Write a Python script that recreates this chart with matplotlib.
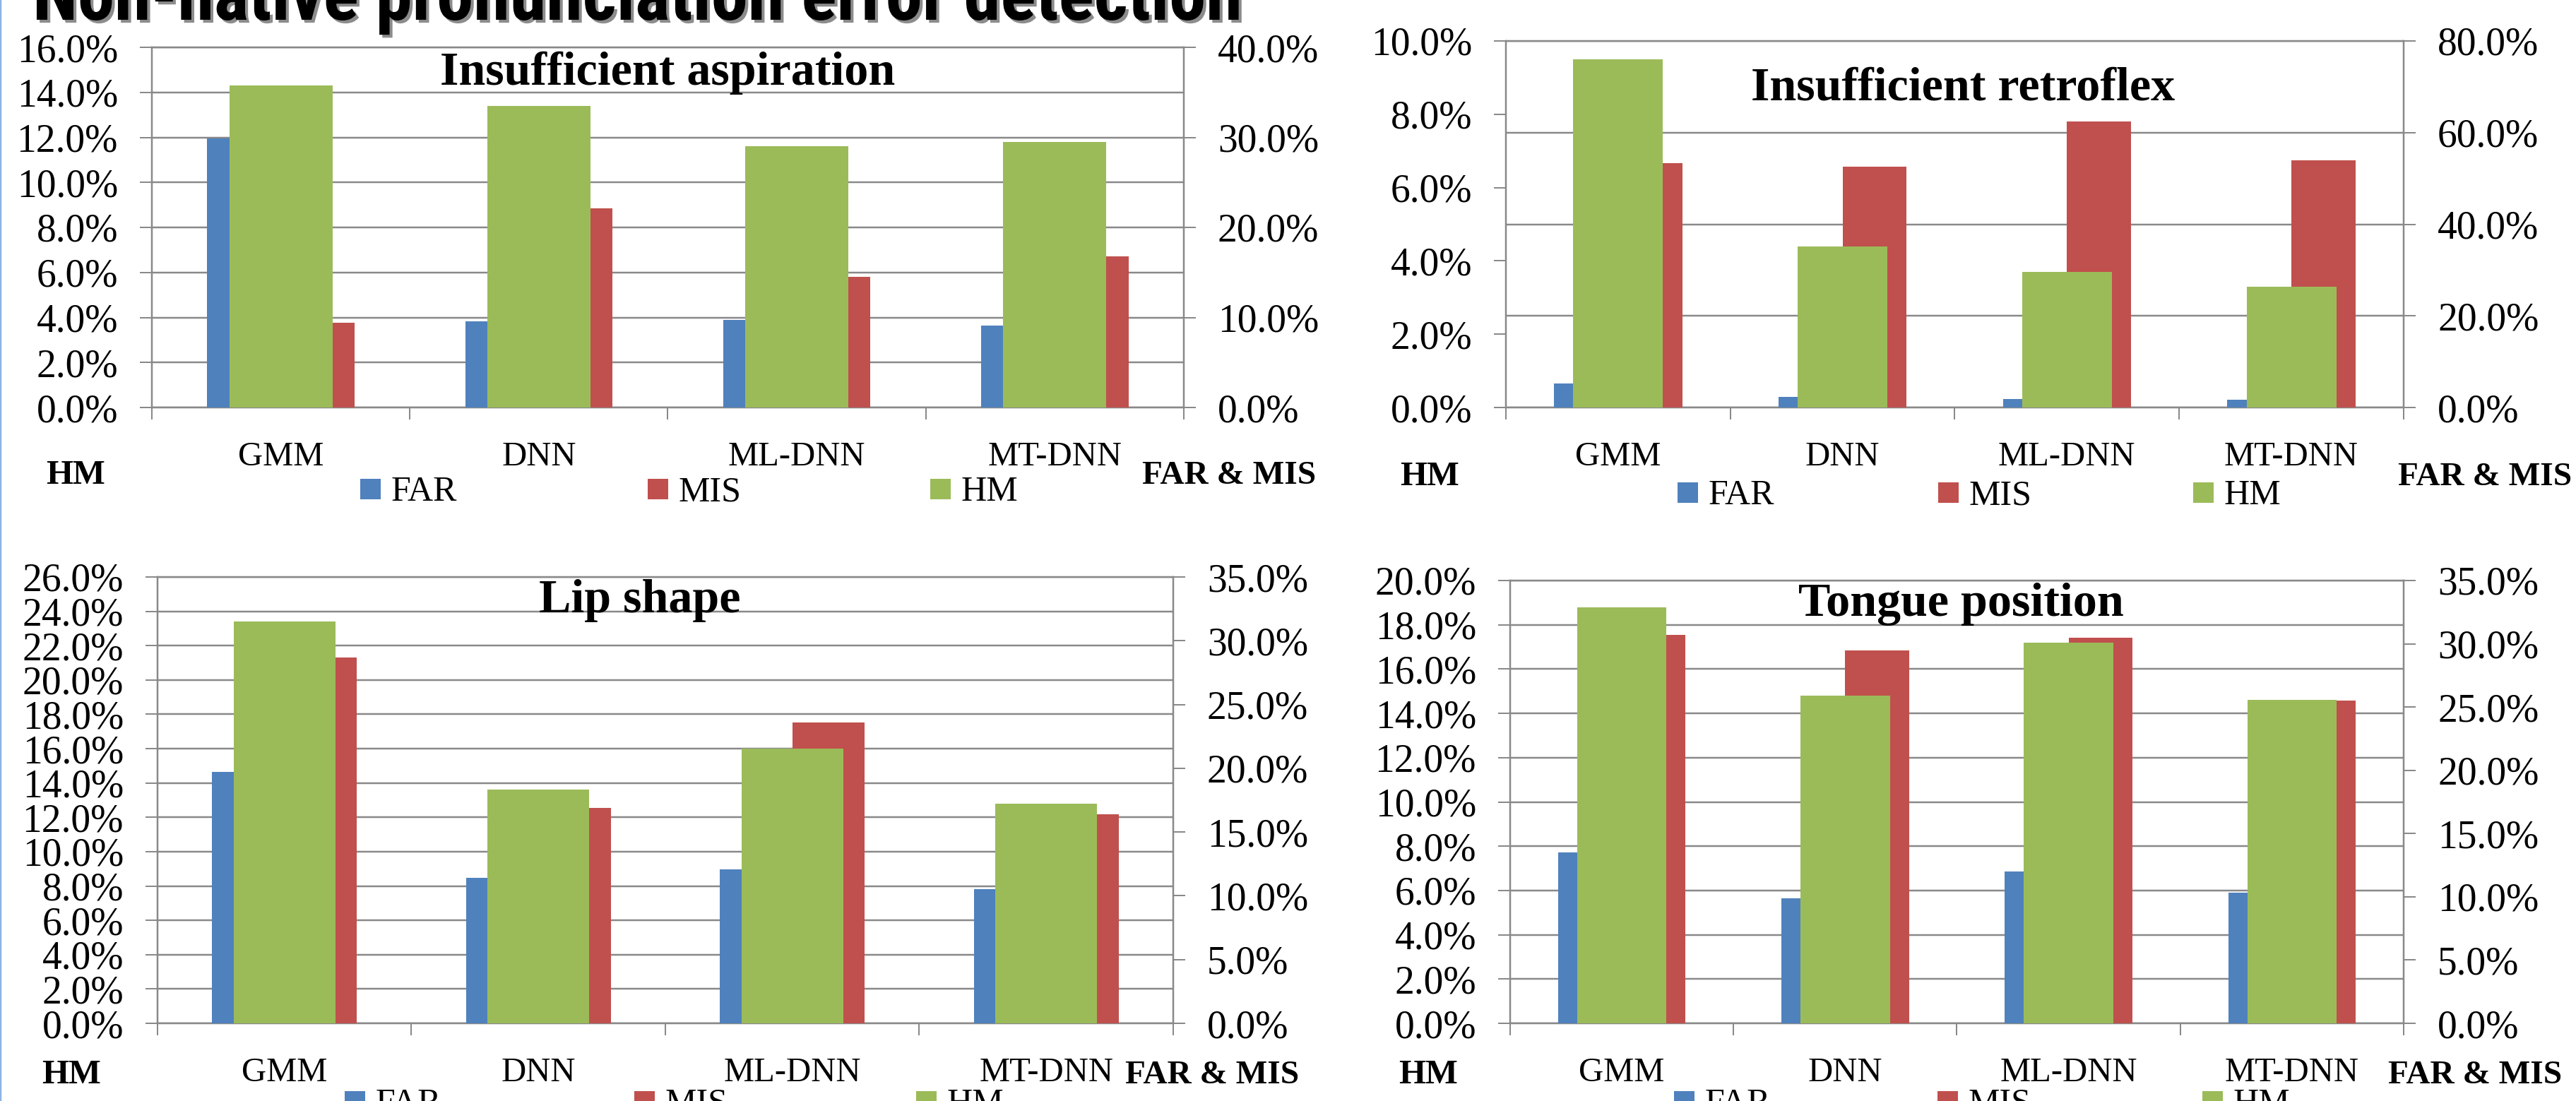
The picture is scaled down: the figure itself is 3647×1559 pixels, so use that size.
import matplotlib
matplotlib.use("Agg")
import matplotlib.pyplot as plt
import matplotlib.patheffects as pe
from matplotlib import font_manager
from matplotlib.patches import Rectangle
from matplotlib.lines import Line2D
from matplotlib.ticker import MultipleLocator, FuncFormatter
import numpy as np

W, H = 3648, 1559
DPI = 100

methods = ["GMM", "DNN", "ML-DNN", "MT-DNN"]
series_names = ["FAR", "MIS", "HM"]

# Error rates in percent: FAR / MIS on the right axis, HM on the left axis
asp_far = [29.9, 9.6, 9.7, 9.1]
asp_mis = [9.4, 22.1, 14.5, 16.8]
asp_hm = [14.3, 13.4, 11.6, 11.8]

ret_far = [5.2, 2.3, 1.9, 1.7]
ret_mis = [53.3, 52.5, 62.4, 53.9]
ret_hm = [9.5, 4.4, 3.7, 3.3]

lip_far = [19.7, 11.4, 12.1, 10.5]
lip_mis = [28.7, 16.9, 23.6, 16.4]
lip_hm = [23.4, 13.6, 16.0, 12.8]

ton_far = [13.5, 9.9, 12.0, 10.3]
ton_mis = [30.7, 29.5, 30.5, 25.5]
ton_hm = [18.8, 14.8, 17.2, 14.6]

panel_titles = ["Insufficient aspiration", "Insufficient retroflex",
                "Lip shape", "Tongue position"]
hm_max = [16, 10, 26, 20]
hm_step = [2, 2, 2, 2]
fm_max = [40, 80, 35, 35]
fm_step = [10, 20, 5, 5]

C_FAR = "#4F81BD"
C_MIS = "#C0504D"
C_HM = "#9BBB59"
C_GRID = "#898989"
SERIF = ["Liberation Serif", "DejaVu Serif"]

PT = 72.0 / DPI  # points per pixel

# layout of each panel, in pixels
layouts = [
    dict(box=(215, 67, 1676, 577), title=(945, 120), hm_x=107, fm_x=1740, lab_y=685,
         leg_x=(510, 917, 1317), leg_y=678, grid="left"),
    dict(box=(2132, 58, 3403, 577), title=(2779, 142), hm_x=2024, fm_x=3518, lab_y=687,
         leg_x=(2375, 2744, 3105), leg_y=683, grid="right"),
    dict(box=(223, 817, 1661, 1449), title=(906, 867), hm_x=101, fm_x=1716, lab_y=1534,
         leg_x=(488, 898, 1297), leg_y=1545, grid="left"),
    dict(box=(2138, 822, 3403, 1449), title=(2776, 872), hm_x=2022, fm_x=3504, lab_y=1534,
         leg_x=(2370, 2743, 3118), leg_y=1545, grid="left"),
]
data = [(asp_far, asp_mis, asp_hm), (ret_far, ret_mis, ret_hm),
        (lip_far, lip_mis, lip_hm), (ton_far, ton_mis, ton_hm)]

fig = plt.figure(figsize=(W / DPI, H / DPI), dpi=DPI, facecolor="white")


def fx(x):
    return x / W


def fy(y):
    return 1 - y / H


pct = FuncFormatter(lambda v, p: f"{v:.1f}%")
x = np.arange(len(methods))
w_pair = 1 / 3.5   # FAR / MIS bar width
w_hm = 0.4         # HM bar width

for i, (lay, (far, mis, hm)) in enumerate(zip(layouts, data)):
    l, t, r, b = lay["box"]
    rect = [fx(l), fy(b), (r - l) / W, (b - t) / H]

    ax = fig.add_axes(rect, zorder=0)
    ax2 = ax.twinx()
    ax2.set_zorder(1)
    ax3 = fig.add_axes(rect, sharex=ax, sharey=ax, zorder=2)
    ax3.set_axis_off()
    ax3.patch.set_visible(False)

    ax2.bar(x - w_pair / 2, far, w_pair, color=C_FAR, label="FAR")
    ax2.bar(x + w_pair / 2, mis, w_pair, color=C_MIS, label="MIS")
    ax3.bar(x, hm, w_hm, color=C_HM, label="HM")

    ax.set_xlim(-0.5, len(methods) - 0.5)
    ax.set_ylim(0, hm_max[i])
    ax2.set_ylim(0, fm_max[i])

    ax.yaxis.set_major_locator(MultipleLocator(hm_step[i]))
    ax2.yaxis.set_major_locator(MultipleLocator(fm_step[i]))
    ax.yaxis.set_major_formatter(pct)
    ax2.yaxis.set_major_formatter(pct)

    ax.set_xticks(x)
    ax.set_xticklabels(methods)
    ax.set_xticks(np.arange(len(methods) + 1) - 0.5, minor=True)

    tick_len = 17 * PT
    ax.tick_params(axis="y", length=tick_len, width=2 * PT, color=C_GRID,
                   pad=31 * PT, labelsize=40)
    ax2.tick_params(axis="y", length=tick_len, width=2 * PT, color=C_GRID,
                    pad=31 * PT, labelsize=40)
    ax.tick_params(axis="x", which="major", length=0, pad=48 * PT, labelsize=35)
    ax.tick_params(axis="x", which="minor", length=tick_len, width=2 * PT, color=C_GRID)
    for lab in ax.get_yticklabels() + ax2.get_yticklabels() + ax.get_xticklabels():
        lab.set_family(SERIF)

    for name, sp in ax.spines.items():
        sp.set_color(C_GRID)
        sp.set_linewidth(2.5 * PT)
    ax.spines["right"].set_visible(False)
    for name, sp in ax2.spines.items():
        sp.set_visible(name == "right")
        sp.set_color(C_GRID)
        sp.set_linewidth(2.5 * PT)

    if lay["grid"] == "left":
        ax.yaxis.grid(True, color=C_GRID, linewidth=2.5 * PT)
        ax.set_axisbelow(True)
    else:
        ax2.yaxis.grid(True, color=C_GRID, linewidth=2.5 * PT)
        ax2.set_axisbelow(True)

    # panel title
    tx, ty = lay["title"]
    fig.text(fx(tx), fy(ty), panel_titles[i], ha="center", va="baseline",
             fontsize=49, fontweight="bold", family=SERIF)

    # axis captions under each value axis
    fig.text(fx(lay["hm_x"]), fy(lay["lab_y"]), "HM", ha="center", va="baseline",
             fontsize=35, fontweight="bold", family=SERIF)
    fig.text(fx(lay["fm_x"]), fy(lay["lab_y"]), "FAR & MIS", ha="center", va="baseline",
             fontsize=34, fontweight="bold", family=SERIF)

    # legend row
    colors = [C_FAR, C_MIS, C_HM]
    sq = 29
    for lx, name, col in zip(lay["leg_x"], series_names, colors):
        top = lay["leg_y"]
        fig.add_artist(Rectangle((fx(lx), fy(top + sq)), sq / W, sq / H,
                                 transform=fig.transFigure, color=col, lw=0))
        fig.text(fx(lx + 44), fy(top + 31), name, ha="left", va="baseline",
                 fontsize=36, family=SERIF)

# slide heading, partly above the top edge; a condensed sans face when one exists
installed = {f.name for f in font_manager.fontManager.ttflist}
narrow = [n for n in ("Liberation Sans Narrow", "DejaVu Sans Condensed",
                      "Roboto Condensed", "Open Sans Condensed") if n in installed]
head_family = narrow[:1] if narrow else ["Lato"]
head_width = 1714 if narrow else 1900
head = fig.text(fx(46), fy(28), "Non-native pronunciation error detection",
                ha="left", va="baseline", fontsize=60, fontweight="bold",
                family=head_family + ["DejaVu Sans"],
                path_effects=[pe.SimplePatchShadow(offset=(3, -3), alpha=0.45),
                              pe.Normal()])
fig.canvas.draw()
bb = head.get_window_extent(renderer=fig.canvas.get_renderer())
head.set_fontsize(60 * head_width / bb.width)

# thin slide border on the left edge
fig.add_artist(Line2D([fx(1), fx(1)], [0, 1], transform=fig.transFigure,
                      color="#8DB3E2", linewidth=2.5 * PT))

fig.savefig("out.png", dpi=DPI, facecolor="white")
